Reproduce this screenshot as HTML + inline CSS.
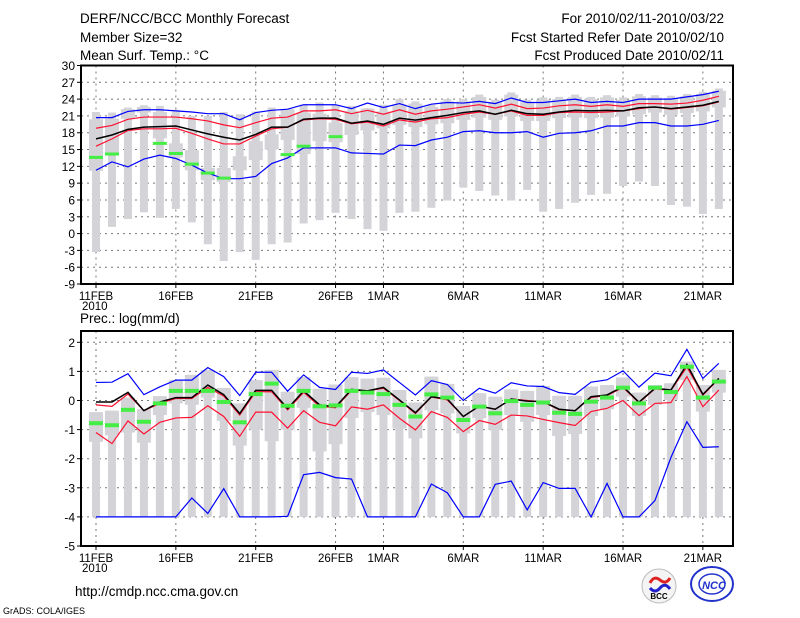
<!DOCTYPE html>
<html><head><meta charset="utf-8">
<style>
body{margin:0;background:#fff;width:800px;height:618px;overflow:hidden}
svg{display:block;font-family:"Liberation Sans",sans-serif}
</style></head>
<body>
<svg id="chart" width="800" height="618" viewBox="0 0 800 618" xmlns="http://www.w3.org/2000/svg">
<g font-size="13.5" fill="#000">
<text x="80" y="23">DERF/NCC/BCC Monthly Forecast</text>
<text x="80" y="42">Member Size=32</text>
<text x="80" y="60">Mean Surf. Temp.: °C</text>
<text x="724" y="23" text-anchor="end">For 2010/02/11-2010/03/22</text>
<text x="724" y="42" text-anchor="end">Fcst Started Refer Date 2010/02/10</text>
<text x="724" y="60" text-anchor="end">Fcst Produced Date 2010/02/11</text>
<text x="80" y="323">Prec.: log(mm/d)</text>
<text x="75" y="596">http://cmdp.ncc.cma.gov.cn</text>
</g>
<text x="3" y="614" font-size="9">GrADS: COLA/IGES</text>
<g id="top"></g>
<g id="bot"></g>
<g>
<circle cx="659" cy="586" r="17" fill="#f4f4f4" stroke="#bbb"/>
<path d="M650 583 q4 -8 10 -3 q6 5 10 -2" stroke="#d22" stroke-width="3" fill="none"/>
<path d="M650 588 q5 6 10 0 q5 -6 10 1" stroke="#22c" stroke-width="3" fill="none"/>
<text x="659" y="599" font-size="8" font-weight="bold" text-anchor="middle">BCC</text>
</g>
<g>
<ellipse cx="712" cy="584" rx="21" ry="17" fill="#fff" stroke="#2233cc" stroke-width="2"/>
<ellipse cx="712" cy="584" rx="13" ry="10" fill="none" stroke="#2233cc" stroke-width="1.5"/>
<text x="714" y="589" font-size="11" font-weight="bold" font-style="italic" fill="#2233cc" text-anchor="middle">NCC</text>
</g>
</svg>
<script>
// ---- temperature panel data (days Feb 11 .. Mar 22) ----
const tMaxLine=[20.7,20.7,21.8,22.1,22.1,21.9,21.7,21.4,21.4,20.3,21.6,22.0,22.2,23.0,23.0,23.0,22.3,23.3,22.5,23.2,22.3,23.1,23.4,23.3,23.6,23.2,24.2,23.4,23.4,23.7,24.0,23.4,23.6,23.4,24.0,24.0,24.0,24.4,24.8,25.4];
const tUp=[18.8,19.3,20.4,20.8,20.8,20.8,20.5,20.1,19.4,18.9,19.8,20.6,20.8,21.9,21.9,22.1,21.4,22.0,21.3,22.1,21.3,21.9,22.2,22.6,23.0,22.4,23.1,22.3,22.4,22.8,23.0,22.7,23.0,22.7,23.2,23.2,23.1,23.3,23.8,24.5];
const tMean=[16.9,17.6,18.6,19.0,19.1,19.2,18.5,17.8,17.2,16.7,17.7,19.0,19.0,20.4,20.6,20.6,19.7,20.1,19.5,20.6,20.25,20.7,21.1,21.6,21.9,21.3,22.0,21.4,21.3,21.7,22.0,21.9,22.0,21.9,22.45,22.6,22.3,22.6,22.9,23.6];
const tLow=[15.6,16.9,18.4,18.7,18.7,18.8,17.9,16.9,16.0,16.0,17.4,18.7,19.0,20.3,20.5,20.4,19.6,19.9,19.2,20.3,19.9,20.5,20.7,21.3,21.7,21.3,21.9,21.1,21.1,21.6,21.7,21.6,21.7,21.9,22.3,22.6,22.2,22.5,22.8,23.5];
const tMinLine=[11.3,12.8,11.9,13.3,14.0,13.4,12.2,10.8,9.8,9.8,10.2,12.5,13.5,15.3,15.3,15.3,14.4,14.3,14.2,15.8,15.7,16.7,17.2,18.2,18.35,18.0,18.0,18.2,17.2,17.9,18.0,18.35,19.2,19.2,19.8,19.8,19.2,19.2,19.5,20.2];
const tObs=[13.6,14.2,null,null,16.1,14.3,12.4,10.8,9.9,null,null,null,14.1,15.6,null,17.3,null,null,null,null,null,null,null,null,null,null,null,null,null,null,null,null,null,null,null,null,null,null,null,null];
const tWhiskTop=[21.7,21.6,22.5,22.9,22.8,22.1,21.0,21.0,21.7,21.3,21.8,22.5,22.2,23.0,23.4,22.9,22.8,22.4,23.0,24.0,23.6,23.0,24.0,24.0,24.8,23.9,25.2,23.9,24.3,24.4,24.8,24.4,24.7,24.3,24.9,24.7,24.6,24.9,25.3,25.9];
const tWhiskBot=[-3.3,1.2,2.6,3.8,2.8,4.4,2.0,-1.9,-4.9,-3.3,-4.7,-1.9,-1.6,1.8,2.4,3.7,2.6,0.8,0.5,3.7,3.9,4.6,5.9,8.2,7.6,6.8,5.9,7.8,3.9,4.4,5.5,6.9,7.1,8.5,9.3,8.5,5.1,4.8,3.5,4.4];
const tBoxHi=[20.4,20.5,22.2,22.6,21.7,16.1,14.9,11.7,11.7,13.8,16.5,17.7,22.2,21.6,21.4,19.8,21.9,22.3,21.8,23.1,23.2,22.6,23.6,23.6,24.4,23.5,24.8,23.5,23.9,24.0,24.4,24.0,24.3,23.9,24.5,24.3,24.2,24.5,24.9,25.5];
const tBoxLo=[11.2,14.0,20.5,21.6,17.0,13.6,11.3,9.5,9.2,11.3,13.1,15.0,16.7,14.2,16.5,16.3,17.6,18.4,18.8,19.4,19.0,19.5,19.7,20.3,20.7,20.3,20.9,20.1,20.1,20.6,20.7,20.6,20.7,20.9,21.3,21.6,21.2,21.5,21.8,22.5];
const tTicks=[30,27,24,21,18,15,12,9,6,3,0,-3,-6,-9];
// ---- precipitation panel data ----
const pMaxLine=[0.62,0.63,0.92,0.2,0.47,0.7,0.7,1.13,0.82,0.17,0.97,0.97,0.32,0.88,0.45,0.38,0.97,0.93,1.05,0.62,0.19,0.68,0.55,0.0,0.42,0.25,0.61,0.5,0.48,0.27,0.21,0.63,0.71,1.02,0.46,0.94,0.85,1.76,0.76,1.28];
const pUp=[-0.15,-0.2,0.22,-0.35,-0.1,0.07,0.07,0.45,0.15,-0.5,0.3,0.3,-0.32,0.28,-0.2,-0.25,0.35,0.33,0.42,0.0,-0.45,0.12,0.02,-0.55,-0.2,-0.3,0.05,0.0,-0.05,-0.32,-0.35,0.1,0.17,0.45,-0.08,0.4,0.35,1.15,0.18,0.75];
const pMean=[-0.05,-0.05,0.28,-0.35,-0.05,0.1,0.1,0.53,0.2,-0.45,0.35,0.35,-0.28,0.33,-0.15,-0.22,0.38,0.33,0.45,0.02,-0.42,0.13,0.05,-0.55,-0.19,-0.3,0.05,-0.02,-0.04,-0.3,-0.35,0.13,0.19,0.48,-0.06,0.42,0.36,1.24,0.21,0.76];
const pLow=[-1.1,-1.48,-0.7,-1.15,-0.75,-0.6,-0.58,-0.18,-0.55,-1.23,-0.4,-0.4,-0.95,-0.35,-0.75,-0.87,-0.22,-0.3,-0.15,-0.61,-1.01,-0.38,-0.58,-1.07,-0.69,-0.82,-0.5,-0.53,-0.65,-0.76,-0.86,-0.38,-0.27,0.0,-0.52,-0.1,-0.07,0.82,-0.21,0.36];
const pMinLine=[-4,-4,-4,-4,-4,-4,-3.35,-3.88,-3.03,-4,-4,-4,-3.98,-2.55,-2.47,-2.65,-2.7,-4,-4,-4,-4,-2.87,-3.17,-4,-4,-2.88,-2.77,-3.76,-2.82,-3.02,-3.02,-4,-2.85,-4,-4,-3.44,-1.96,-0.73,-1.61,-1.59];
const pObs=[-0.78,-0.85,-0.32,-0.73,-0.1,0.33,0.33,0.33,-0.05,-0.75,0.22,0.58,-0.18,0.33,-0.2,-0.17,0.33,0.27,0.22,-0.15,-0.55,0.21,0.1,-0.67,-0.21,-0.44,-0.02,-0.15,-0.07,-0.42,-0.46,-0.04,0.1,0.44,-0.1,0.44,0.29,1.16,0.1,0.65];
const pWhiskTop=[-0.4,-0.35,0.1,-0.3,0.15,0.7,0.88,1.05,0.43,-0.1,0.7,1.05,0.3,0.8,0.4,0.55,0.8,0.75,0.78,0.36,-0.07,0.82,0.57,-0.19,0.25,0.13,0.38,0.33,0.5,0.16,0.16,0.48,0.53,0.79,0.27,0.53,0.59,1.34,0.53,1.05];
const pWhiskBot=[-4,-4,-4,-4,-4,-4,-4,-4,-4,-4,-4,-4,-4,-4,-4,-4,-4,-4,-4,-4,-4,-4,-4,-4,-4,-4,-4,-4,-4,-4,-4,-4,-4,-4,-4,-4,-4,-4,-4,-4];
const pBoxLo=[-1.42,-1.2,-1.1,-1.45,-0.5,-0.1,-0.15,0.1,-0.7,-1.55,-1.0,-1.4,-1.0,-0.25,-1.75,-1.5,-0.6,-0.4,-0.5,-0.96,-1.3,-0.33,-0.44,-1.13,-0.61,-1.01,-0.5,-0.73,-0.5,-1.22,-1.15,-0.53,-0.3,0.13,-0.53,-0.15,0.02,0.71,-0.38,0.27];
const pTicks=[2,1,0,-1,-2,-3,-4,-5];
const dateLabels=["11FEB","16FEB","21FEB","26FEB","1MAR","6MAR","11MAR","16MAR","21MAR"];
const dateIdx=[0,5,10,15,18,23,28,33,38];

const NS="http://www.w3.org/2000/svg";
const X0=81,X1=733;
function xd(d){return 96+d*15.97;}
function mk(parent,tag,attrs){const e=document.createElementNS(NS,tag);for(const k in attrs)e.setAttribute(k,attrs[k]);parent.appendChild(e);return e;}

function panel(g,cfg){
  const ys=v=>cfg.yTop+(cfg.vTop-v)*cfg.ppu;
  // grid
  cfg.ticks.forEach(t=>{
    const y=ys(t);
    if(y>cfg.yTop+2&&y<cfg.yBot-2){const l=mk(g,'line',{x1:X0,x2:X1,y1:y,y2:y,stroke:'#777','stroke-dasharray':'2,4','stroke-width':1});
    
    }
    const tk=mk(g,'line',{x1:X0-4,x2:X0,y1:y,y2:y,stroke:'#000'});
    
    
    const tx=mk(g,'text',{x:X0-6,y:y+4.5,'text-anchor':'end','font-size':12});
    tx.textContent=t;
    
    
  });
  dateIdx.forEach((d,i)=>{
    const x=xd(d);
    const l=mk(g,'line',{x1:x,x2:x,y1:cfg.yTop,y2:cfg.yBot,stroke:'#777','stroke-dasharray':'2,4'});
    
    
    const tk=mk(g,'line',{x1:x,x2:x,y1:cfg.yBot,y2:cfg.yBot+4,stroke:'#000'});
    
    
    const tx=mk(g,'text',{x:x,y:cfg.yBot+16,'text-anchor':'middle','font-size':11.5});
    tx.textContent=dateLabels[i];
    
    
  });
  const yr=mk(g,'text',{x:82,y:cfg.yBot+26,'font-size':11.5});
  yr.textContent='2010';
  
  
  // bars
  for(let d=0;d<cfg.wt.length;d++){
    const x=xd(d);
    const w=mk(g,'rect',{x:x-4,width:8,y:ys(cfg.wt[d]),height:Math.max(0,ys(cfg.wb[d])-ys(cfg.wt[d])),fill:'#d3d3d8'});
    
    
    const b=mk(g,'rect',{x:x-7,width:14,y:ys(cfg.bh[d]),height:Math.max(0,ys(cfg.bl[d])-ys(cfg.bh[d])),fill:'#d3d3d8'});
    
    
  }
  const series=[[cfg.minL,'#0000ff','min-line'],[cfg.low,'#ff1030','lower-line'],[cfg.up,'#ff1030','upper-line'],[cfg.mean,'#000','mean-line'],[cfg.maxL,'#0000ff','max-line']];
  series.forEach(s=>{
    const pts=s[0].map((v,d)=>xd(d)+','+ys(v)).join(' ');
    const p=mk(g,'polyline',{points:pts,fill:'none',stroke:s[1],'stroke-width':s[2]=='mean-line'?1.5:1.2});
    
    
  });
  cfg.obs.forEach((v,d)=>{
    if(v===null)return;
    const r=mk(g,'rect',{x:xd(d)-7,width:14,y:ys(v)-cfg.oh/2,height:cfg.oh,fill:'#44ee44'});
    
    
  });
  const f=mk(g,'rect',{x:X0,y:cfg.yTop,width:X1-X0,height:cfg.yBot-cfg.yTop,fill:'none',stroke:'#000','stroke-width':2});
  
  
}
panel(document.getElementById('top'),{yTop:65.5,yBot:284,vTop:30,ppu:218.5/39,ticks:tTicks,wt:tWhiskTop,wb:tWhiskBot,bh:tBoxHi,bl:tBoxLo,maxL:tMaxLine,up:tUp,mean:tMean,low:tLow,minL:tMinLine,obs:tObs,oh:3});
panel(document.getElementById('bot'),{yTop:331,yBot:546,vTop:2+11.3/29.1,ppu:29.1,ticks:pTicks,wt:pWhiskTop,wb:pWhiskBot,bh:pWhiskTop,bl:pBoxLo,maxL:pMaxLine,up:pUp,mean:pMean,low:pLow,minL:pMinLine,obs:pObs,oh:4});
</script>
</body></html>
